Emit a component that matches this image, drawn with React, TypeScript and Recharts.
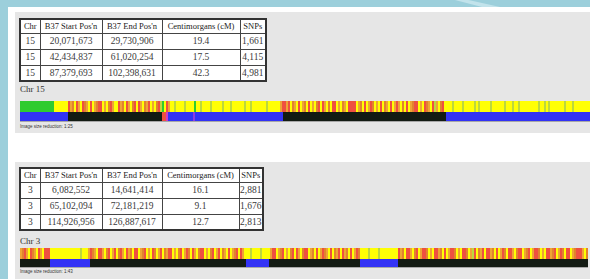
import React from 'react';
import { ComposedChart, XAxis, YAxis, ReferenceArea } from 'recharts';

// table text
const headers = ['Chr', "B37 Start Pos'n", "B37 End Pos'n", 'Centimorgans (cM)', 'SNPs'];

const chr15Rows = [
  ['15', '20,071,673', '29,730,906', '19.4', '1,661'],
  ['15', '42,434,837', '61,020,254', '17.5', '4,115'],
  ['15', '87,379,693', '102,398,631', '42.3', '4,981'],
];

const chr3Rows = [
  ['3', '6,082,552', '14,641,414', '16.1', '2,881'],
  ['3', '65,102,094', '72,181,219', '9.1', '1,676'],
  ['3', '114,926,956', '126,887,617', '12.7', '2,813'],
];

// top strip, one letter per 2 units along the bar
const chr15Top = [
  'GGGGGGGGGGGGGGGGG',
  'YYYYYYY',
  'RODYROYRDO' + 'YRYODRRYOY' + 'DROYYRODYR' + 'OYDRYROYDO' + 'RYOYDRL',
  'GYROYYLYYY' + 'YLYYYYGYYL' + 'YYYYLYYYYY' + 'LYYYLYYYYY' + 'YLYYLYYYYY' + 'YYLYYYYYYO',
  'RRORYDOYRY' + 'ODYRYOYDRY' + 'ROYDYRRYOY' + 'DOYRRRRYOD' + 'YRYORDYOYR' + 'YDOYRYOROY' + 'DYRYODRRYO' + 'YRDOYRLOYD' + 'RY',
  'YYYLYYYYLY' + 'YYYYLYLYYY' + 'YYLYYYYYYL' + 'YYYLYYLYYY' + 'YYYYYYLYYL' + 'YLYYYYYYYL' + 'YYYLYYYYYY' + 'YY',
];

const chr3Top = [
  'ODROYRDOYR' + 'OYRRR',
  'YYYYYYYYYY' + 'YYYYYLYYYO',
  'RDOYRROYDR' + 'YORYDROYRO' + 'DYRRYODRYO' + 'YRDYORYDOR' + 'RYOYDRYORD' + 'YROYDRRYOY' + 'DRYORYDOYR' + 'YODRYROY',
  'YYLYYYYLYYYY',
  'ORRYODRYOY' + 'DRYROYDRRY' + 'ODYRYORDOY' + 'RYDORYRODY' + 'RYORD',
  'YYYYLYYYYLYYYYYYYYY',
  'RODYRROYDR' + 'YORRDYOYRR' + 'ODYRYORRDY' + 'OYRRDYOLRY' + 'DORYRRODYR' + 'YORDYRROYD' + 'RRYODRYORR' + 'DYOYRRODRY' + 'ORDYRRYODR' + 'RROYD',
];

// bottom strip runs: [from, to, code]
const chr15Bottom: [number, number, string][] = [
  [0, 48, 'B'], [48, 142, 'K'], [142, 146, 'R'], [146, 148, 'M'], [148, 173, 'B'],
  [173, 175, 'V'], [175, 263, 'B'], [263, 426, 'K'], [426, 570, 'B'],
];

const chr3Bottom: [number, number, string][] = [
  [0, 30, 'K'], [30, 70, 'B'], [70, 226, 'K'], [226, 249, 'B'],
  [249, 340, 'K'], [340, 378, 'B'], [378, 568, 'K'],
];

const COLORS: Record<string, string> = {
  G: '#2fcb2f',
  Y: '#ffff05',
  L: '#bcd83c',
  O: '#eea434',
  R: '#ee5040',
  D: '#e2822e',
  B: '#3232f5',
  K: '#131b13',
  M: '#d03cc0',
  V: '#8c3ce0',
};

function toRuns(pieces: string[]) {
  const code = pieces.join('');
  const runs: [number, number, string][] = [];
  for (let i = 0; i < code.length; i++) {
    const c = code[i];
    const last = runs[runs.length - 1];
    if (last && last[2] === c) last[1] = (i + 1) * 2;
    else runs.push([i * 2, (i + 1) * 2, c]);
  }
  return runs;
}

function ChromoBar({ top, bottom, width, height, split }: {
  top: string[]; bottom: [number, number, string][]; width: number; height: number; split: number;
}) {
  const topRuns = toRuns(top);
  return (
    <ComposedChart width={width} height={height} margin={{ top: 0, right: 0, bottom: 0, left: 0 }}>
      <XAxis type="number" dataKey="x" domain={[0, width]} allowDataOverflow hide />
      <YAxis type="number" domain={[0, height]} allowDataOverflow hide />
      {topRuns.map(([a, b, c], i) => (
        <ReferenceArea key={'t' + i} x1={a} x2={b} y1={split} y2={height}
          fill={COLORS[c]} fillOpacity={1} stroke="none" ifOverflow="visible" />
      ))}
      {bottom.map(([a, b, c], i) => (
        <ReferenceArea key={'b' + i} x1={a} x2={b} y1={0} y2={split}
          fill={COLORS[c]} fillOpacity={1} stroke="none" ifOverflow="visible" />
      ))}
    </ComposedChart>
  );
}

function SegTable({ rows, left, top, cols }: { rows: string[][]; left: number; top: number; cols: number[] }) {
  const cell: React.CSSProperties = {
    border: '1px solid #444',
    padding: 0,
    textAlign: 'center',
    background: '#fff',
    color: '#3a3a3a',
    whiteSpace: 'nowrap',
    overflow: 'hidden',
  };
  return (
    <table style={{
      position: 'absolute', left, top, borderCollapse: 'collapse', tableLayout: 'fixed',
      border: '2px solid #333', fontFamily: '"Liberation Serif", serif',
    }}>
      <colgroup>{cols.map((w, i) => <col key={i} style={{ width: w }} />)}</colgroup>
      <tbody>
        <tr style={{ height: 14 }}>
          {headers.map((h) => <td key={h} style={{ ...cell, fontSize: 8.5, color: '#222' }}>{h}</td>)}
        </tr>
        {rows.map((r, i) => (
          <tr key={i} style={{ height: 16 }}>
            {r.map((v, j) => <td key={j} style={{ ...cell, fontSize: 9.5 }}>{v}</td>)}
          </tr>
        ))}
      </tbody>
    </table>
  );
}

const small: React.CSSProperties = {
  position: 'absolute', fontFamily: '"Liberation Sans", sans-serif', fontSize: 4.5, color: '#333',
  whiteSpace: 'nowrap',
};
const label: React.CSSProperties = {
  position: 'absolute', fontFamily: '"Liberation Serif", serif', fontSize: 9, color: '#333',
};

export default function App() {
  return (
    <div style={{ position: 'absolute', left: 0, top: 0, width: 590, height: 279, background: '#9ccfdb', overflow: 'hidden' }}>
      <div style={{
        position: 'absolute', left: 455, top: 0, width: 45, height: 7, background: '#c2e3eb',
        clipPath: 'polygon(0 0, 30% 0, 100% 100%, 60% 100%)',
      }} />
      <div style={{ position: 'absolute', left: 8, top: 7, width: 582, height: 272, background: '#ffffff' }} />

      <div style={{ position: 'absolute', left: 15, top: 12, width: 575, height: 121, background: '#e6e6e6' }} />
      <SegTable rows={chr15Rows} left={19} top={18} cols={[20, 62, 60, 78, 26]} />
      <div style={{ ...label, left: 20, top: 84 }}>Chr 15</div>
      <div style={{ position: 'absolute', left: 20, top: 101 }}>
        <ChromoBar top={chr15Top} bottom={chr15Bottom} width={570} height={20} split={9} />
      </div>
      <div style={{ position: 'absolute', left: 20, top: 121, width: 570, height: 1, background: '#a8a8a8' }} />
      <div style={{ ...small, left: 20, top: 124 }}>Image size reduction: 1:25</div>

      <div style={{ position: 'absolute', left: 15, top: 162, width: 575, height: 117, background: '#e6e6e6' }} />
      <SegTable rows={chr3Rows} left={19} top={167} cols={[20, 62, 60, 77, 24]} />
      <div style={{ ...label, left: 20, top: 236 }}>Chr 3</div>
      <div style={{ position: 'absolute', left: 20, top: 248 }}>
        <ChromoBar top={chr3Top} bottom={chr3Bottom} width={568} height={19} split={8} />
      </div>
      <div style={{ position: 'absolute', left: 20, top: 267, width: 568, height: 1, background: '#a8a8a8' }} />
      <div style={{ ...small, left: 20, top: 269 }}>Image size reduction: 1:43</div>
    </div>
  );
}
